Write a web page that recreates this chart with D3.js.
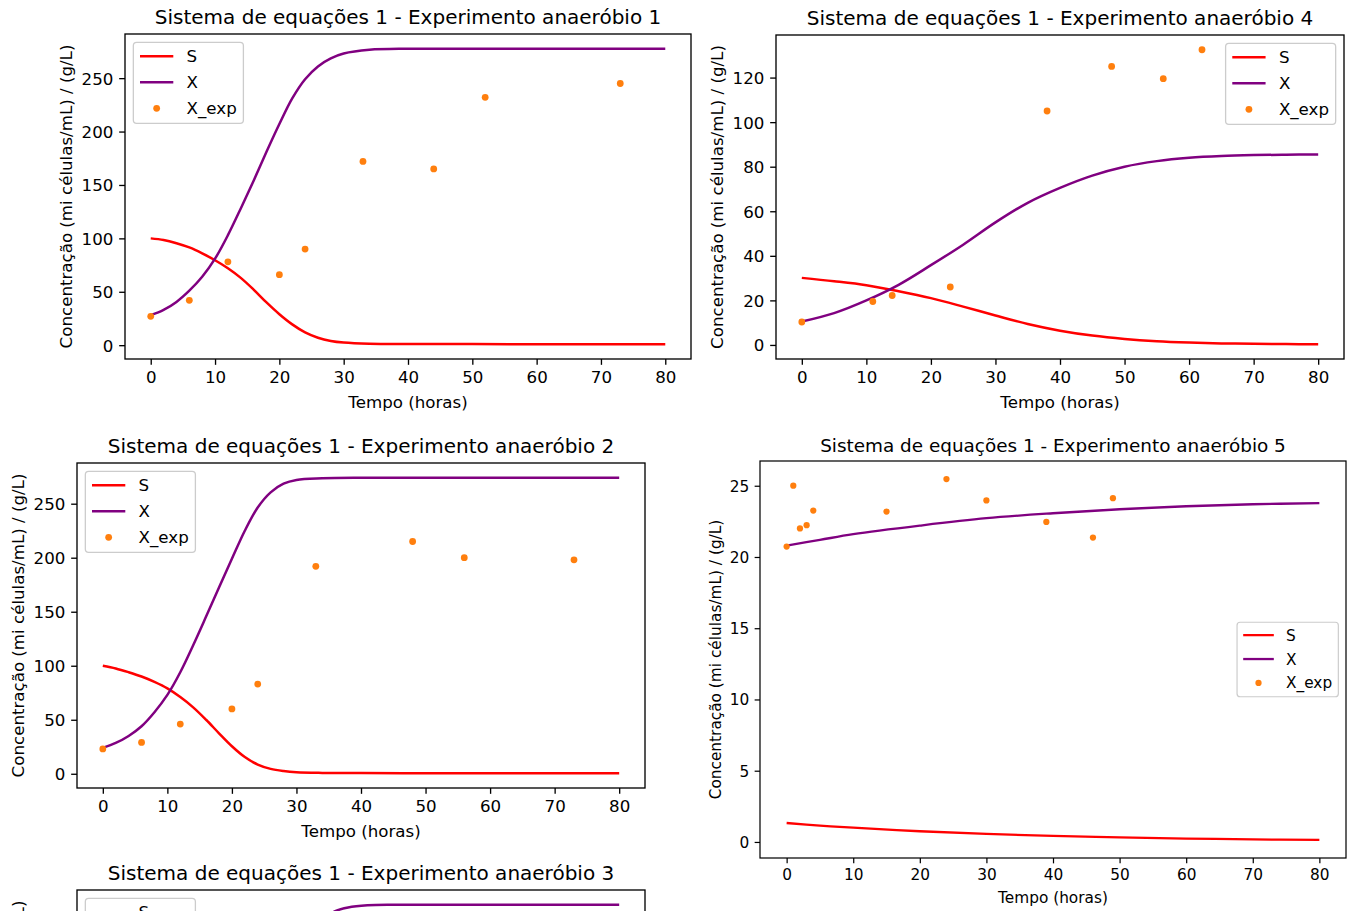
<!DOCTYPE html>
<html><head><meta charset="utf-8">
<script src="https://cdn.jsdelivr.net/npm/d3@7"></script>
<style>
body{margin:0;background:#fff}
svg{display:block;background:#fff}
text{font-family:"DejaVu Sans",sans-serif;fill:#000}
</style>
</head><body>
<svg id="c" width="1357" height="911"></svg>
<script>
// ---------------- DATA ----------------
const seriesNames = ["S", "X", "X_exp"];
const titlePrefix = "Sistema de equações 1 - Experimento anaeróbio ";
const xLabel = "Tempo (horas)";
const yLabel = "Concentração (mi células/mL) / (g/L)";
const xTicks = [0, 10, 20, 30, 40, 50, 60, 70, 80];

// Experimento 1
const tModel1 = [0,2,4,6,8,10,12,14,16,18,20,22,24,26,28,30,34,40,50,60,70,80];
const S1 = [100,98.5,95.5,91.5,86,79.5,72,63,52,40,29,19.5,12,7,4,2.5,1.4,1.1,1,0.9,0.9,0.9];
const X1 = [28,33,40.5,51,64,81,103,128,154,181,207,231,249,261,268.5,273,276.5,277.5,277.5,277.5,277.5,277.5];
const tExp1 = [0,6,12,20,24,33,44,52,73];
const Xexp1 = [27,42,78,66,90,172,165,232,245];
const yTicks1 = [0,50,100,150,200,250];

// Experimento 2
const tModel2 = [0,2,4,6,8,10,12,14,16,18,20,22,24,26,28,30,34,40,50,60,70,80];
const S2 = [100,97.5,94,90,85,79,71,61.5,50,37.5,25.5,15.5,8.5,4.5,2.5,1.4,0.8,0.6,0.5,0.5,0.5,0.5];
const X2 = [24,28.5,35,44,57,73,94,119,145.5,172.5,199,225,246.5,260.5,268.5,272,273.5,274,274,274,274,274];
const tExp2 = [0,6,12,20,24,33,48,56,73];
const Xexp2 = [23,29,46,60,83,192,215,200,198];
const yTicks2 = [0,50,100,150,200,250];

// Experimento 3 (only the top of this panel is visible)
const tModel3 = [0,5,10,15,20,25,30,33,36,38,41,45,50,60,70,80];
const S3 = [100,97,91,81,66,45,22,11,5,3,1.5,1,0.7,0.5,0.5,0.5];
const X3 = [22,30,45,70,108,160,232,258,269.5,273,275,275.5,275.5,275.5,275.5,275.5];
const tExp3 = [0,6,12,20,24,33,48,56,73];
const Xexp3 = [22,27,40,55,75,160,190,200,205];
const yTicks3 = [0,50,100,150,200,250];

// Experimento 4
const tModel4 = [0,5,10,15,20,25,30,35,40,45,50,55,60,65,70,75,80];
const S4 = [30.1,28.6,26.8,24.1,21,17.2,13.2,9.4,6.4,4.2,2.7,1.7,1.1,0.7,0.5,0.4,0.3];
const X4 = [10.5,14.3,20,27,35.8,45,55,63.8,70.5,76,80,82.5,84,84.8,85.2,85.4,85.5];
const tExp4 = [0,11,14,23,38,48,56,62];
const Xexp4 = [10.3,19.5,22.2,26,105,125,119.5,132.5];
const yTicks4 = [0,20,40,60,80,100,120];

// Experimento 5
const tModel5 = [0,5,10,20,30,40,50,60,70,80];
const S5 = [1.33,1.15,1.0,0.75,0.56,0.42,0.32,0.24,0.18,0.14];
const X5 = [20.8,21.2,21.6,22.2,22.72,23.07,23.35,23.56,23.7,23.78];
const tExp5 = [0,1,2,3,4,15,24,30,39,46,49];
const Xexp5 = [20.73,25.0,22.0,22.23,23.26,23.19,25.47,23.97,22.46,21.36,24.13];
const yTicks5 = [0,5,10,15,20,25];

// ---------------- LAYOUT ----------------
const panels = [
  {num:1, tS:tModel1, S:S1, X:X1, tExp:tExp1, Xexp:Xexp1, yTicks:yTicks1,
   left:125, top:34, width:566, height:325, k:1, legend:"upper left"},
  {num:4, tS:tModel4, S:S4, X:X4, tExp:tExp4, Xexp:Xexp4, yTicks:yTicks4,
   left:776, top:35, width:568, height:324, k:1, legend:"upper right"},
  {num:2, tS:tModel2, S:S2, X:X2, tExp:tExp2, Xexp:Xexp2, yTicks:yTicks2,
   left:77, top:463, width:568, height:325, k:1, legend:"upper left"},
  {num:5, tS:tModel5, S:S5, X:X5, tExp:tExp5, Xexp:Xexp5, yTicks:yTicks5,
   left:760, top:461, width:586, height:397, k:0.92, legend:"center right"},
  {num:3, tS:tModel3, S:S3, X:X3, tExp:tExp3, Xexp:Xexp3, yTicks:yTicks3,
   left:77, top:890, width:568, height:325, k:1, legend:"upper left"}
];

const colS = "#ff0000", colX = "#800080", colExp = "#ff7f0e";
const svg = d3.select("#c");
const H = 911;

function drawPanel(p, idx) {
  const k = p.k, fs = 16.67*k, tfs = 20*k, lw = 2.5*k;
  const tick = 5.83*k, pad = 5.83*k, sw = 1.33*k;
  const g = svg.append("g");

  const allT = p.tS.concat(p.tExp);
  const tmin = d3.min(allT), tmax = d3.max(allT), tp = (tmax - tmin)*0.05;
  const x = d3.scaleLinear().domain([tmin - tp, tmax + tp]).range([p.left, p.left + p.width]);
  const allY = p.S.concat(p.X, p.Xexp);
  const ymin = d3.min(allY), ymax = d3.max(allY), yp = (ymax - ymin)*0.05;
  const y = d3.scaleLinear().domain([ymin - yp, ymax + yp]).range([p.top + p.height, p.top]);

  const cid = "clip" + idx;
  g.append("clipPath").attr("id", cid).append("rect")
    .attr("x", p.left).attr("y", p.top).attr("width", p.width).attr("height", p.height);

  const plot = g.append("g").attr("clip-path", "url(#" + cid + ")");
  const line = d3.line().x(d => x(d[0])).y(d => y(d[1])).curve(d3.curveCatmullRom.alpha(0.5));
  plot.append("path").datum(p.tS.map((t,i) => [t, p.S[i]]))
    .attr("d", line).attr("fill", "none").attr("stroke", colS).attr("stroke-width", lw);
  plot.append("path").datum(p.tS.map((t,i) => [t, p.X[i]]))
    .attr("d", line).attr("fill", "none").attr("stroke", colX).attr("stroke-width", lw);
  plot.selectAll("circle").data(p.tExp.map((t,i) => [t, p.Xexp[i]])).join("circle")
    .attr("cx", d => x(d[0])).attr("cy", d => y(d[1])).attr("r", 3.4*k).attr("fill", colExp);

  // axes
  const xa = g.append("g").attr("transform", `translate(0,${p.top + p.height})`)
    .call(d3.axisBottom(x).tickValues(xTicks).tickSize(tick).tickPadding(pad).tickSizeOuter(0));
  const ya = g.append("g").attr("transform", `translate(${p.left},0)`)
    .call(d3.axisLeft(y).tickValues(p.yTicks).tickSize(tick).tickPadding(pad).tickSizeOuter(0));
  [xa, ya].forEach(a => {
    a.select(".domain").remove();
    a.attr("font-family", null).attr("font-size", null).style("color", "#000");
    a.selectAll("line").attr("stroke-width", sw);
    a.selectAll("text").style("font-size", fs + "px").style("font-family", '"DejaVu Sans",sans-serif');
  });
  xa.selectAll("text").attr("dy", "0.73em");
  ya.selectAll("text").attr("dy", "0.36em");

  // spines
  g.append("rect").attr("x", p.left).attr("y", p.top).attr("width", p.width).attr("height", p.height)
    .attr("fill", "none").attr("stroke", "#000").attr("stroke-width", sw);

  // title
  g.append("text").attr("x", p.left + p.width/2).attr("y", p.top - 10*k)
    .attr("text-anchor", "middle").style("font-size", tfs + "px").text(titlePrefix + p.num);
  // x label
  g.append("text").attr("x", p.left + p.width/2).attr("y", p.top + p.height + 43*k + 0.36*fs)
    .attr("text-anchor", "middle").style("font-size", fs + "px").text(xLabel);
  // y label
  const maxW = d3.max(ya.selectAll("text").nodes(), n => n.getComputedTextLength());
  const ylx = p.left - tick - pad - maxW - 6.67*k - 0.55*fs;
  const yly = p.top + p.height/2;
  g.append("text").attr("transform", `translate(${ylx},${yly}) rotate(-90)`)
    .attr("text-anchor", "middle").attr("dy", "0.36em").style("font-size", fs + "px").text(yLabel);

  // legend
  const lg = g.append("g");
  const bpad = 6.67*k, hlen = 33.3*k, hpad = 13.3*k, bax = 8.33*k;
  const boxH = 81*k;
  const texts = [];
  seriesNames.forEach((nm, i) => {
    texts.push(lg.append("text").style("font-size", fs + "px").text(nm));
  });
  const tw = d3.max(texts, t => t.node().getComputedTextLength());
  const boxW = bpad + hlen + hpad + tw + bpad;
  let bx, by;
  if (p.legend === "upper left") { bx = p.left + bax; by = p.top + bax; }
  else if (p.legend === "upper right") { bx = p.left + p.width - bax - boxW; by = p.top + bax; }
  else { bx = p.left + p.width - bax - boxW; by = p.top + p.height/2 - boxH/2; }
  lg.insert("rect", ":first-child").attr("x", bx).attr("y", by).attr("width", boxW).attr("height", boxH)
    .attr("rx", 3.3*k).attr("fill", "#fff").attr("fill-opacity", 0.8)
    .attr("stroke", "#cccccc").attr("stroke-width", 1.3*k);
  const cols = [colS, colX, colExp];
  seriesNames.forEach((nm, i) => {
    const cy = by + (14 + 26*i)*k;
    if (i < 2) {
      lg.append("line").attr("x1", bx + bpad).attr("x2", bx + bpad + hlen)
        .attr("y1", cy).attr("y2", cy).attr("stroke", cols[i]).attr("stroke-width", lw);
    } else {
      lg.append("circle").attr("cx", bx + bpad + hlen/2).attr("cy", cy).attr("r", 3.4*k).attr("fill", cols[i]);
    }
    texts[i].attr("x", bx + bpad + hlen + hpad).attr("y", cy + 0.36*fs);
  });

  // drop texts that fall entirely below the visible figure (panel 3 is cut by the picture edge)
  g.selectAll("text").each(function() {
    const r = this.getBoundingClientRect();
    if (r.top >= H) d3.select(this).remove();
  });
}

panels.forEach((p, i) => drawPanel(p, i));
</script>
</body></html>
